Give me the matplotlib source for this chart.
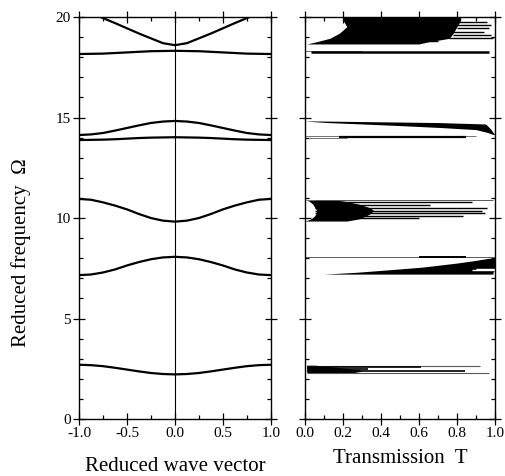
import matplotlib
matplotlib.use("Agg")
import matplotlib.pyplot as plt
from matplotlib.ticker import MultipleLocator

plt.rcParams['font.family'] = ['Liberation Serif', 'DejaVu Serif']

# ---- band structure (left panel) ----
k = [-1.0, -0.875, -0.75, -0.625, -0.5, -0.375, -0.25, -0.125, 0.0,
     0.125, 0.25, 0.375, 0.5, 0.625, 0.75, 0.875, 1.0]

band1 = [2.70, 2.68, 2.63, 2.55, 2.46, 2.37, 2.29, 2.24, 2.22,
         2.24, 2.29, 2.37, 2.46, 2.55, 2.63, 2.68, 2.70]
band2 = [7.16, 7.19, 7.29, 7.44, 7.64, 7.81, 7.95, 8.04, 8.07,
         8.04, 7.95, 7.81, 7.64, 7.44, 7.29, 7.19, 7.16]
band3 = [10.95, 10.91, 10.78, 10.62, 10.43, 10.20, 10.00, 9.87, 9.82,
         9.87, 10.00, 10.20, 10.43, 10.62, 10.78, 10.91, 10.95]
band4 = [13.88, 13.89, 13.90, 13.92, 13.95, 13.98, 14.00, 14.01, 14.02,
         14.01, 14.00, 13.98, 13.95, 13.92, 13.90, 13.89, 13.88]
band5 = [14.13, 14.16, 14.23, 14.35, 14.48, 14.61, 14.73, 14.80, 14.83,
         14.80, 14.73, 14.61, 14.48, 14.35, 14.23, 14.16, 14.13]
band6 = [18.16, 18.17, 18.18, 18.21, 18.24, 18.27, 18.30, 18.31, 18.32,
         18.31, 18.30, 18.27, 18.24, 18.21, 18.18, 18.17, 18.16]
band7 = [20.45, 20.20, 19.95, 19.70, 19.44, 19.18, 18.94, 18.70, 18.60,
         18.70, 18.94, 19.18, 19.44, 19.70, 19.95, 20.20, 20.45]
bands = [band1, band2, band3, band4, band5, band6, band7]

# ---- transmission (right panel): filled envelopes ----
t1_omega = [2.30, 2.38, 2.46, 2.54, 2.62, 2.68]
t1_left = [0.01, 0.01, 0.01, 0.01, 0.01, 0.01]
t1_right = [0.25, 0.30, 0.28, 0.20, 0.12, 0.05]

t2_omega = [7.21, 7.30, 7.43, 7.56, 7.66, 7.76, 7.88, 8.00]
t2_left = [0.10, 0.27, 0.45, 0.62, 0.71, 0.80, 0.89, 0.97]
t2_right = [0.99, 0.99, 1.00, 1.00, 1.00, 1.00, 1.00, 1.00]

t3_omega = [9.85, 9.95, 10.10, 10.25, 10.40, 10.55, 10.70, 10.85, 10.90]
t3_left = [0.00, 0.03, 0.05, 0.06, 0.06, 0.05, 0.04, 0.02, 0.00]
t3_right = [0.22, 0.28, 0.32, 0.35, 0.36, 0.33, 0.28, 0.20, 0.15]

t5_omega = [14.16, 14.26, 14.40, 14.50, 14.60, 14.68, 14.75, 14.80, 14.83]
t5_left = [0.99, 0.96, 0.90, 0.72, 0.50, 0.30, 0.12, 0.04, 0.00]
t5_right = [1.00, 0.99, 0.98, 0.97, 0.96, 0.95, 0.70, 0.30, 0.05]

t7_omega = [18.66, 18.77, 18.94, 19.19, 19.52, 19.85, 20.00]
t7_left = [0.01, 0.06, 0.13, 0.18, 0.22, 0.20, 0.20]
t7_right = [0.60, 0.65, 0.76, 0.78, 0.80, 0.82, 0.82]

envelopes = [(t1_omega, t1_left, t1_right), (t2_omega, t2_left, t2_right),
             (t3_omega, t3_left, t3_right), (t5_omega, t5_left, t5_right),
             (t7_omega, t7_left, t7_right)]

# ---- transmission peaks: omega, T start, T end, width, colour ----
peak_omega = [2.66, 2.58, 2.50, 2.40, 2.31,
              8.07, 8.07,
              10.88, 10.81, 10.65, 10.48, 10.36, 10.23, 10.10, 9.98,
              14.06, 14.05, 13.97,
              18.32, 18.27,
              19.77, 19.60, 19.44, 19.27, 19.10, 18.94, 18.80]
peak_start = [0.01, 0.01, 0.01, 0.01, 0.01,
              0.00, 0.60,
              0.05, 0.05, 0.05, 0.05, 0.05, 0.05, 0.05, 0.05,
              0.00, 0.18, 0.02,
              0.00, 0.03,
              0.80, 0.80, 0.80, 0.78, 0.78, 0.76, 0.60]
peak_end = [0.92, 0.61, 0.33, 0.84, 0.97,
            1.00, 0.85,
            0.99, 0.88, 0.66, 0.96, 0.93, 0.95, 0.83, 0.60,
            0.90, 0.85, 0.22,
            0.30, 0.97,
            0.96, 0.98, 0.97, 0.94, 0.98, 0.99, 0.70]
peak_width = [0.8, 1.2, 1.2, 1.2, 0.8,
              0.7, 1.4,
              0.7, 1.0, 1.0, 1.0, 1.0, 1.0, 1.0, 1.0,
              0.7, 1.6, 0.7,
              0.7, 1.8,
              1.0, 1.0, 1.0, 1.0, 1.0, 1.0, 1.0]
peak_color = ['0.35', 'black', 'black', 'black', '0.35',
              '0.35', 'black',
              '0.35', 'black', 'black', 'black', 'black', 'black', 'black', 'black',
              '0.45', 'black', '0.45',
              '0.45', 'black',
              'black', 'black', 'black', 'black', 'black', 'black', 'black']

# white gaps inside the 7.2-8.0 band
gap_omega = [7.40, 7.48]
gap_start = [0.88, 0.90]
gap_end = [1.00, 1.00]

fig = plt.figure(figsize=(5.05, 4.76), dpi=100)
ax1 = fig.add_axes([0.1564, 0.1197, 0.380, 0.8445])
ax2 = fig.add_axes([0.604, 0.1197, 0.376, 0.8445])

for b in bands:
    ax1.plot(k, b, color='black', lw=1.6)
ax1.axvline(0.0, color='black', lw=0.8)
ax1.set_xlim(-1, 1)
ax1.set_ylim(0, 20)
ax1.xaxis.set_major_locator(MultipleLocator(0.5))
ax1.xaxis.set_minor_locator(MultipleLocator(0.25))
ax1.xaxis.set_major_formatter(matplotlib.ticker.FormatStrFormatter('%.1f'))
ax1.set_xlabel("Reduced wave vector", fontsize=15)
ax1.set_ylabel("Reduced frequency  \u03a9", fontsize=15)
ax1.xaxis.set_label_coords(0.5, -0.095)
ax1.yaxis.set_label_coords(-0.25, 0.415)

for om, lo, hi in envelopes:
    ax2.fill_betweenx(om, lo, hi, color='black', lw=0)
for o, s, e, w, c in zip(peak_omega, peak_start, peak_end, peak_width, peak_color):
    ax2.hlines(o, s, e, colors=c, lw=w)
for o, s, e in zip(gap_omega, gap_start, gap_end):
    ax2.hlines(o, s, e, colors='white', lw=1.0)
ax2.set_xlim(0, 1)
ax2.set_ylim(0, 20)
ax2.xaxis.set_major_locator(MultipleLocator(0.2))
ax2.xaxis.set_minor_locator(MultipleLocator(0.1))
ax2.xaxis.set_major_formatter(matplotlib.ticker.FormatStrFormatter('%.1f'))
ax2.set_xlabel("Transmission  T", fontsize=15)
ax2.xaxis.set_label_coords(0.5, -0.075)

for ax in (ax1, ax2):
    ax.yaxis.set_major_locator(MultipleLocator(5))
    ax.yaxis.set_minor_locator(MultipleLocator(1))
    ax.tick_params(which='both', top=True, right=True, labelsize=11, width=0.9)
    ax.tick_params(which='major', direction='inout', length=8, pad=2)
    ax.tick_params(which='minor', direction='in', length=3)
    for sp in ax.spines.values():
        sp.set_linewidth(1.0)
ax2.tick_params(labelleft=False)

fig.savefig("out.png", dpi=100)
